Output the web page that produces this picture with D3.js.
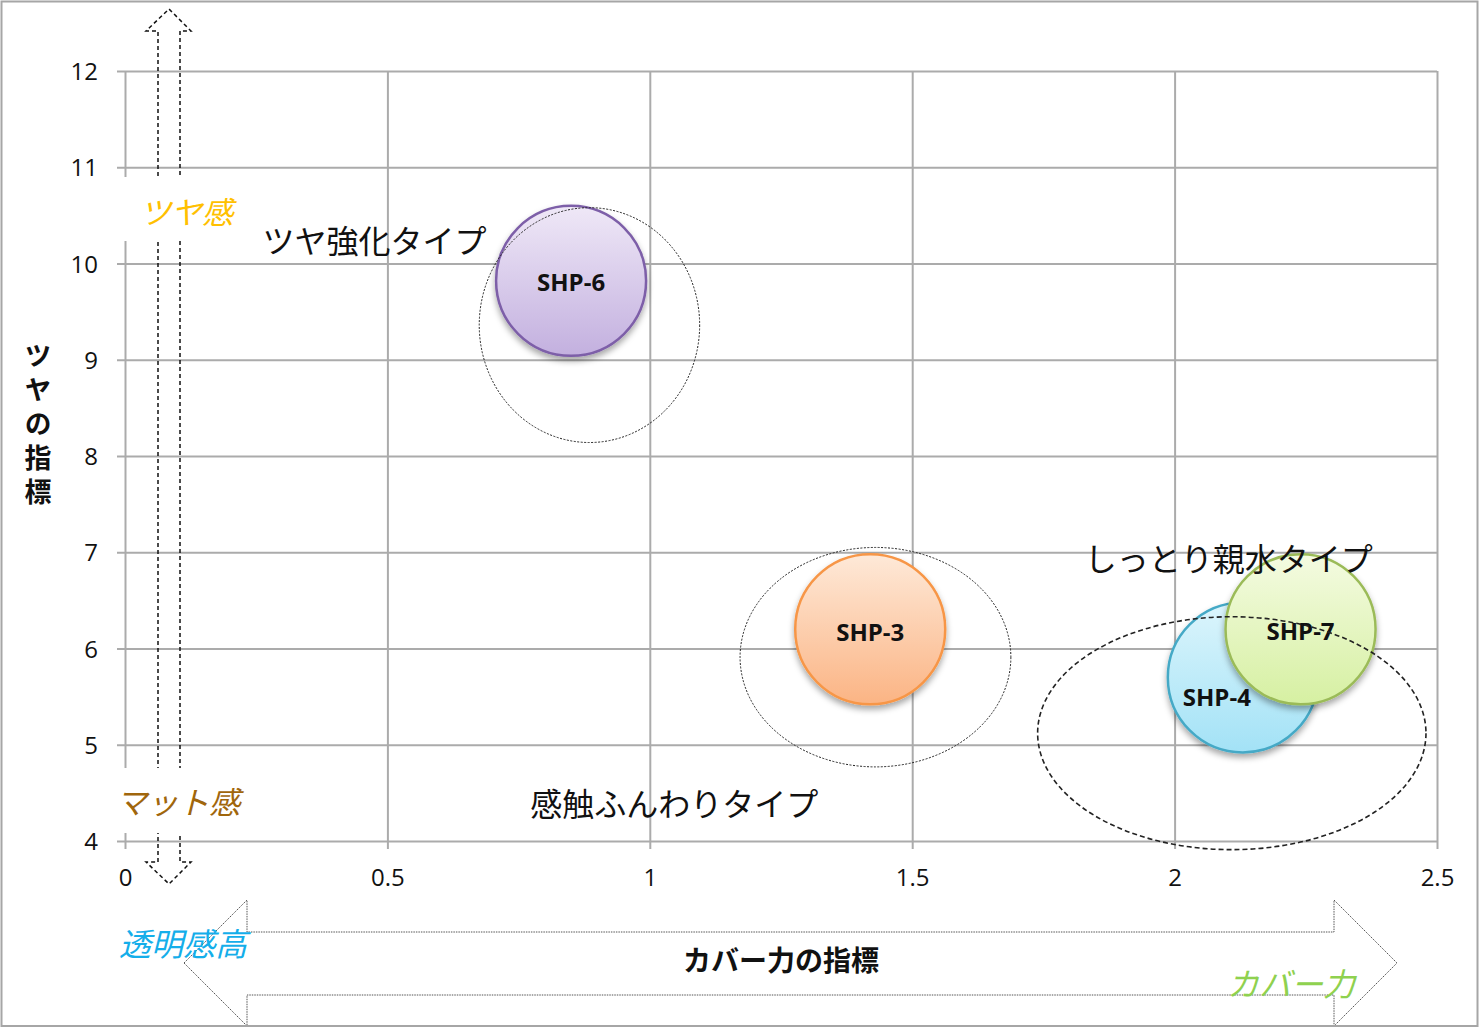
<!DOCTYPE html>
<html>
<head>
<meta charset="utf-8">
<script src="https://cdn.jsdelivr.net/npm/d3@7/dist/d3.min.js"></script>
<style>
  html, body { margin: 0; padding: 0; background: #fff; }
  svg { display: block; }
</style>
</head>
<body>
<svg id="chart" width="1481" height="1028"></svg>
<script>
// ---- data ----
const names   = ["SHP-6", "SHP-3", "SHP-4", "SHP-7"];
const coverX  = [0.85, 1.42, 2.13, 2.24];   // カバー力の指標
const glossY  = [9.82, 6.2, 5.7, 6.2];      // ツヤの指標
const sizes   = [1, 1, 1, 1];               // bubble size
const xTicks  = [0, 0.5, 1, 1.5, 2, 2.5];
const yTicks  = [4, 5, 6, 7, 8, 9, 10, 11, 12];
const xTickLabels = ["0", "0.5", "1", "1.5", "2", "2.5"];
const yTickLabels = ["4", "5", "6", "7", "8", "9", "10", "11", "12"];

// group ellipses (data units): centre x, centre y, radius x, radius y
const groupNames = ["ツヤ強化タイプ", "感触ふんわりタイプ", "しっとり親水タイプ"];
const groupCX = [0.885, 1.43, 2.109];
const groupCY = [9.36, 5.91, 5.12];
const groupRX = [0.21, 0.258, 0.37];
const groupRY = [1.22, 1.14, 1.21];
// group label anchor (data units, left edge / vertical centre)
const groupLabelX = [0.262, 0.772, 1.829];
const groupLabelY = [10.255, 4.41, 6.95];

// ---- styles ----
const palette = [
  { top: "#efe8f7", bottom: "#c3b0df", stroke: "#7d5ea8" },
  { top: "#fee9d8", bottom: "#fbb484", stroke: "#f79646" },
  { top: "#dcf5fc", bottom: "#a3e2f6", stroke: "#45a9c6" },
  { top: "#f4fbe1", bottom: "#d6f0a2", stroke: "#9bbb59" }
];
const labelOffset = [[0, 1], [0, 2], [-26, 19], [0, 1]];

const svg = d3.select("#chart");
const W = 1481, H = 1028;

const x = d3.scaleLinear().domain([0, 2.5]).range([125, 1437]);
const y = d3.scaleLinear().domain([4, 12]).range([841, 71]);
const r = d3.scaleSqrt().domain([0, 1]).range([0, 75]);

const defs = svg.append("defs");
palette.forEach((p, i) => {
  const g = defs.append("linearGradient").attr("id", "grad" + i)
    .attr("x1", 0).attr("y1", 0).attr("x2", 0).attr("y2", 1);
  g.append("stop").attr("offset", "0%").attr("stop-color", p.top);
  g.append("stop").attr("offset", "100%").attr("stop-color", p.bottom);
});
const f = defs.append("filter").attr("id", "shadow")
  .attr("x", "-30%").attr("y", "-30%").attr("width", "160%").attr("height", "160%");
f.append("feDropShadow").attr("dx", 0).attr("dy", 4).attr("stdDeviation", 3)
  .attr("flood-color", "#000").attr("flood-opacity", 0.35);

// background
svg.append("rect").attr("width", W).attr("height", H).attr("fill", "#fff");

const gridColor = "#ababab";
const tickFont = "'Open Sans', 'DejaVu Sans', sans-serif";

// y axis with grid
const yAxis = d3.axisLeft(y).tickValues(yTicks)
  .tickFormat((d, i) => yTickLabels[i])
  .tickSizeInner(-(x(2.5) - (x(0) - 8))).tickSizeOuter(0).tickPadding(19);
const gy = svg.append("g").attr("transform", `translate(${x(0) - 8},0)`).call(yAxis);
gy.select(".domain").remove();
gy.selectAll(".tick line").attr("stroke", gridColor).attr("stroke-width", 2);
gy.selectAll(".tick text").attr("font-family", tickFont).attr("font-size", 24)
  .attr("fill", "#111").attr("dy", "0.36em");

// x axis with grid
const xAxis = d3.axisBottom(x).tickValues(xTicks)
  .tickFormat((d, i) => xTickLabels[i])
  .tickSizeInner(-((y(4) + 8) - y(12))).tickSizeOuter(0).tickPadding(20);
const gx = svg.append("g").attr("transform", `translate(0,${y(4) + 8})`).call(xAxis);
gx.select(".domain").remove();
gx.selectAll(".tick line").attr("stroke", gridColor).attr("stroke-width", 2);
gx.selectAll(".tick text").attr("font-family", tickFont).attr("font-size", 24)
  .attr("fill", "#111");

// vertical double-headed dashed arrow (ツヤ方向)
const ax0 = 158, ax1 = 180, axm = (ax0 + ax1) / 2;
const vArrow = svg.append("g").attr("fill", "none").attr("stroke", "#111")
  .attr("stroke-width", 1.5).attr("stroke-dasharray", "4,3");
vArrow.append("path").attr("d",
  `M${ax0},862 L${ax0},31 L146,31 L${axm},9 L191,31 L${ax1},31 L${ax1},862 L191,862 L${axm},884 L146,862 Z`);

// white label boxes over the arrow
svg.append("rect").attr("x", 108).attr("y", 177).attr("width", 142).attr("height", 64).attr("fill", "#fff");
svg.append("rect").attr("x", 108).attr("y", 768).attr("width", 142).attr("height", 65).attr("fill", "#fff");

const jpFont = "'Noto Sans CJK JP', 'Noto Sans', sans-serif";
svg.append("text").attr("x", 140).attr("y", 210).attr("dominant-baseline", "central")
  .attr("font-family", jpFont).attr("font-size", 31).attr("font-style", "italic")
  .attr("fill", "#ffc000").text("ツヤ感");
svg.append("text").attr("x", 116).attr("y", 800).attr("dominant-baseline", "central")
  .attr("font-family", jpFont).attr("font-size", 31).attr("font-style", "italic")
  .attr("fill", "#a0660c").text("マット感");

// horizontal double-headed arrow (カバー力方向)
svg.append("path").attr("d",
  "M184,963 L247,900 L247,932 L1334,932 L1334,900 L1397,963 L1334,1026 L1334,995 L247,995 L247,1026 Z")
  .attr("fill", "#fff").attr("stroke", "#555").attr("stroke-width", 1)
  .attr("stroke-dasharray", "1.5,1");

svg.append("text").attr("x", 119).attr("y", 942).attr("dominant-baseline", "central")
  .attr("font-family", jpFont).attr("font-size", 32).attr("font-style", "italic")
  .attr("fill", "#14aeea").text("透明感高");
svg.append("text").attr("x", 1227).attr("y", 982).attr("dominant-baseline", "central")
  .attr("font-family", jpFont).attr("font-size", 32).attr("font-style", "italic")
  .attr("fill", "#8fd14f").text("カバー力");

// axis titles
svg.append("text").attr("x", 781).attr("y", 959).attr("text-anchor", "middle")
  .attr("dominant-baseline", "central").attr("font-family", jpFont)
  .attr("font-size", 28).attr("font-weight", "bold").attr("fill", "#111").text("カバー力の指標");
svg.append("text").attr("x", 38).attr("y", 342)
  .style("writing-mode", "vertical-rl").style("text-orientation", "upright")
  .style("letter-spacing", "7px")
  .attr("font-family", jpFont).attr("font-size", 27).attr("font-weight", "bold")
  .attr("fill", "#111").text("ツヤの指標");

// bubbles
const bubbles = names.map((n, i) => ({ name: n, x: coverX[i], y: glossY[i], s: sizes[i], i }));
svg.append("g").selectAll("circle").data(bubbles).join("circle")
  .attr("cx", d => x(d.x)).attr("cy", d => y(d.y)).attr("r", d => r(d.s))
  .attr("fill", d => `url(#grad${d.i})`).attr("stroke", d => palette[d.i].stroke)
  .attr("stroke-width", 2.5).attr("filter", "url(#shadow)");

svg.append("g").selectAll("text").data(bubbles).join("text")
  .attr("x", d => x(d.x) + labelOffset[d.i][0]).attr("y", d => y(d.y) + labelOffset[d.i][1])
  .attr("text-anchor", "middle").attr("dominant-baseline", "central")
  .attr("font-family", tickFont).attr("font-size", 24).attr("font-weight", "bold")
  .attr("fill", "#111").text(d => d.name);

// group ellipses
const groups = groupNames.map((n, i) => ({ n, i }));
svg.append("g").selectAll("ellipse").data(groups).join("ellipse")
  .attr("cx", d => x(groupCX[d.i])).attr("cy", d => y(groupCY[d.i]))
  .attr("rx", d => x(groupRX[d.i]) - x(0)).attr("ry", d => y(0) - y(groupRY[d.i]))
  .attr("fill", "none").attr("stroke", "#222")
  .attr("stroke-width", d => d.i === 2 ? 1.6 : 1)
  .attr("stroke-dasharray", d => d.i === 2 ? "5,3" : "2,1.5");

// group labels
svg.append("g").selectAll("text").data(groups).join("text")
  .attr("x", d => x(groupLabelX[d.i])).attr("y", d => y(groupLabelY[d.i]))
  .attr("dominant-baseline", "central").attr("font-family", jpFont)
  .attr("font-size", 32).attr("fill", "#111").text(d => d.n);

// outer frame
svg.append("rect").attr("x", 1.5).attr("y", 1.5).attr("width", 1476).attr("height", 1024.5)
  .attr("fill", "none").attr("stroke", "#a6a6a6").attr("stroke-width", 2);
</script>
</body>
</html>
